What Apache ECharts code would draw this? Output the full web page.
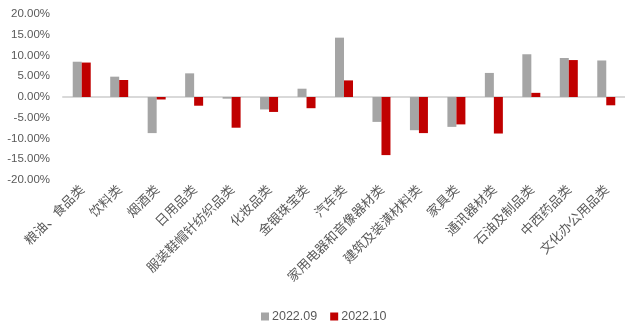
<!DOCTYPE html>
<html><head><meta charset="utf-8">
<script src="https://cdn.jsdelivr.net/npm/echarts@6/dist/echarts.min.js"></script>
<style>html,body{margin:0;padding:0;background:#fff}#c{width:625px;height:326px}</style>
</head><body><div id="c"></div>
<script>
var categories = ['粮油、食品类','饮料类','烟酒类','日用品类','服装鞋帽针纺织品类','化妆品类','金银珠宝类','汽车类','家用电器和音像器材类','建筑及装潢材料类','家具类','通讯器材类','石油及制品类','中西药品类','文化办公用品类'];
var s2209 = [8.5, 4.9, -8.7, 5.7, -0.4, -3.0, 2.0, 14.3, -6.0, -8.0, -7.2, 5.8, 10.3, 9.4, 8.8];
var s2210 = [8.3, 4.1, -0.6, -2.1, -7.4, -3.6, -2.7, 4.0, -14.0, -8.7, -6.6, -8.8, 1.0, 8.9, -2.0];
var seriesNames = ['2022.09','2022.10'];

var chart = echarts.init(document.getElementById('c'), null, {renderer:'canvas'});
chart.setOption({
  animation:false,
  backgroundColor:'#fff',
  grid:{left:63, top:14, width:568, height:166},
  legend:{
    data:seriesNames, top:305, left:256, itemWidth:8, itemHeight:8, itemGap:13,
    icon:'rect', textStyle:{color:'#595959', fontSize:12.5, fontFamily:'Liberation Sans, Arial', padding:[0,0,0,-2]}
  },
  xAxis:[{
    type:'category', data:categories,
    axisLine:{show:false, onZero:false}, axisTick:{show:false},
    axisLabel:{rotate:45, interval:0, margin:7, color:'#595959', fontSize:13, fontFamily:'Noto Sans CJK SC'}
  },{
    type:'category', data:categories, position:'bottom',
    axisLine:{show:true, onZero:true, lineStyle:{color:'#D9D9D9', width:2}},
    axisTick:{show:false}, axisLabel:{show:false}
  }],
  yAxis:{
    type:'value', min:-20, max:20, interval:5,
    splitLine:{show:false}, axisLine:{show:false}, axisTick:{show:false},
    axisLabel:{margin:13, color:'#595959', fontSize:11.5, fontFamily:'Liberation Sans, Arial', formatter:function(v){return v.toFixed(2)+'%';}}
  },
  series:[
    {name:seriesNames[0], type:'bar', data:s2209, barWidth:9, barGap:'0%', itemStyle:{color:'#A5A5A5'}, z:3},
    {name:seriesNames[1], type:'bar', data:s2210, barWidth:9, barGap:'0%', itemStyle:{color:'#C00000'}, z:3}
  ]
});
</script></body></html>
